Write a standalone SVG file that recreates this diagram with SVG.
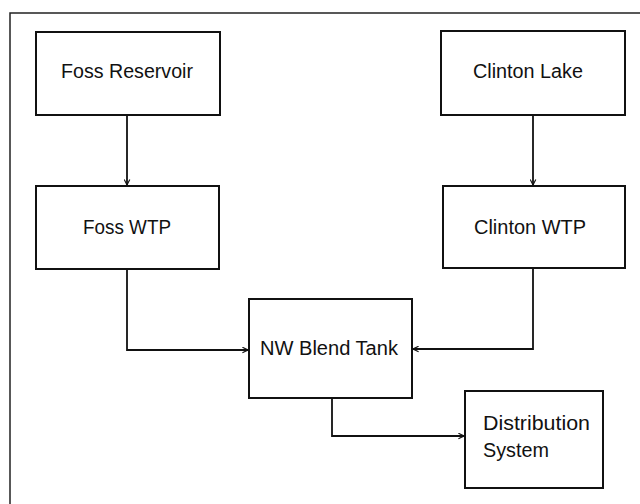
<svg xmlns="http://www.w3.org/2000/svg" width="640" height="504" viewBox="0 0 640 504">
  <defs>
    <style>
      .box { fill: #ffffff; stroke: #111111; stroke-width: 2; }
      .lbl { font-family: "Liberation Sans", Arial, sans-serif; font-size: 20px; fill: #111111; text-anchor: middle; }
      .lbl-l { font-family: "Liberation Sans", Arial, sans-serif; font-size: 20px; fill: #111111; }
      .wire { fill: none; stroke: #111111; stroke-width: 1.8; }
      .frame { fill: none; stroke: #222222; stroke-width: 1.5; }
    </style>
    <marker id="arrow" viewBox="0 0 10 10" refX="9" refY="5" markerWidth="7" markerHeight="7" markerUnits="userSpaceOnUse" orient="auto">
      <path d="M1,1 L9,5 L1,9" fill="none" stroke="#111111" stroke-width="1.6"/>
    </marker>
  </defs>

  <rect width="640" height="504" fill="#ffffff"/>

  <!-- outer frame (left and top edges only visible) -->
  <path class="frame" d="M10,504 L10,13 L640,13"/>

  <g id="connectors">
    <path class="wire" d="M127,115 L127,185" marker-end="url(#arrow)"/>
    <path class="wire" d="M533,115 L533,185" marker-end="url(#arrow)"/>
    <path class="wire" d="M127,269 L127,350 L248,350" marker-end="url(#arrow)"/>
    <path class="wire" d="M533,268 L533,349 L413,349" marker-end="url(#arrow)"/>
    <path class="wire" d="M332,398 L332,436 L464,436" marker-end="url(#arrow)"/>
  </g>

  <g id="foss-reservoir">
    <rect class="box" x="36" y="32" width="184" height="83"/>
    <text class="lbl" x="127" y="78" textLength="132" lengthAdjust="spacingAndGlyphs">Foss Reservoir</text>
  </g>

  <g id="clinton-lake">
    <rect class="box" x="441" y="31" width="184" height="84"/>
    <text class="lbl" x="528" y="78" textLength="110" lengthAdjust="spacingAndGlyphs">Clinton Lake</text>
  </g>

  <g id="foss-wtp">
    <rect class="box" x="36" y="186" width="183" height="83"/>
    <text class="lbl" x="127" y="234" textLength="88" lengthAdjust="spacingAndGlyphs">Foss WTP</text>
  </g>

  <g id="clinton-wtp">
    <rect class="box" x="443" y="186" width="182" height="82"/>
    <text class="lbl" x="530" y="234" textLength="112" lengthAdjust="spacingAndGlyphs">Clinton WTP</text>
  </g>

  <g id="nw-blend-tank">
    <rect class="box" x="249" y="299" width="163" height="99"/>
    <text class="lbl" x="329" y="355" textLength="138" lengthAdjust="spacingAndGlyphs">NW Blend Tank</text>
  </g>

  <g id="distribution-system">
    <rect class="box" x="465" y="391" width="138" height="97"/>
    <text class="lbl-l" x="483" y="430" textLength="107" lengthAdjust="spacingAndGlyphs">Distribution</text>
    <text class="lbl-l" x="483" y="457" textLength="66" lengthAdjust="spacingAndGlyphs">System</text>
  </g>
</svg>
